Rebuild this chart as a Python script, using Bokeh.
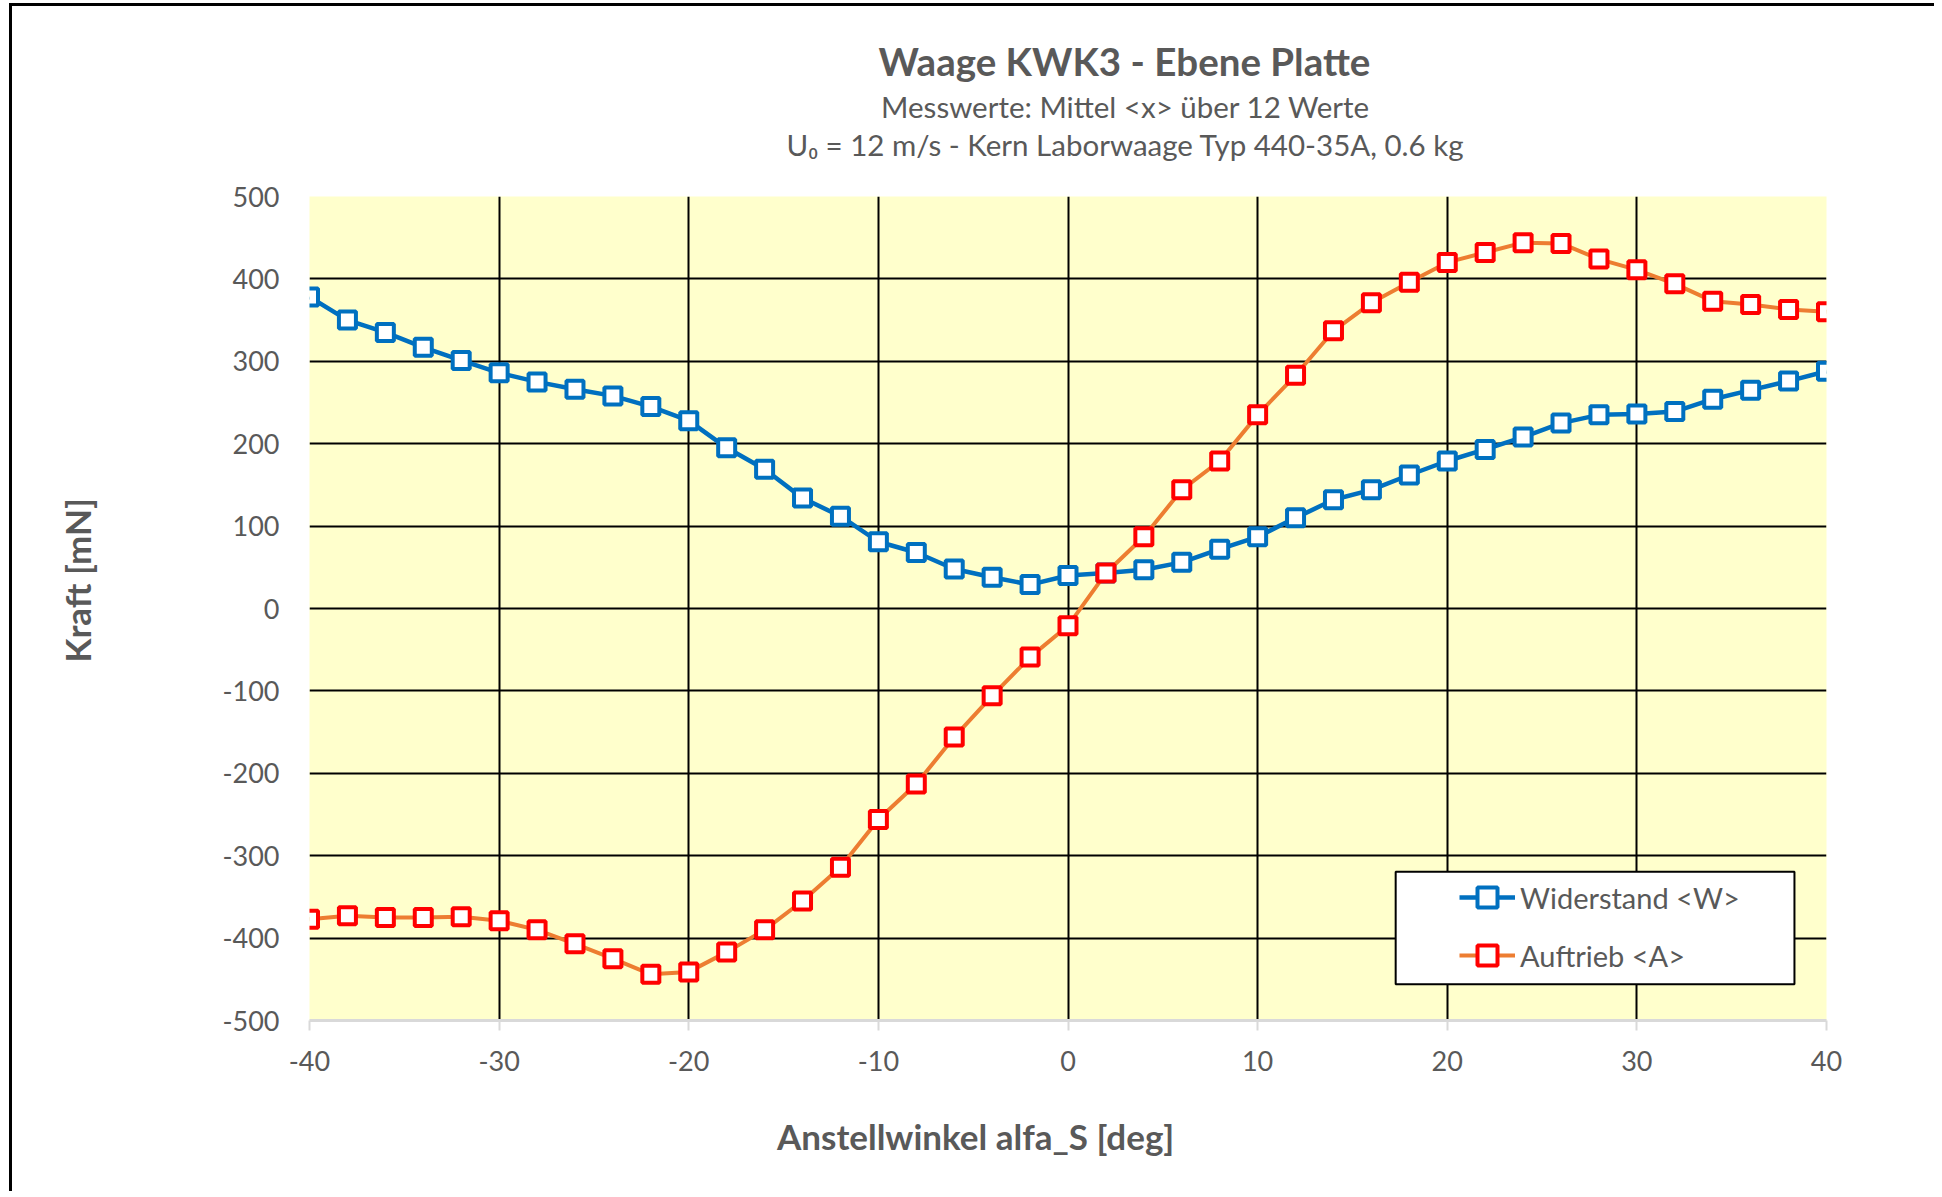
from bokeh.plotting import figure
from bokeh.models import (ColumnDataSource, Legend, LegendItem, FixedTicker,
                          BoxAnnotation, Range1d, Title)
from bokeh.embed import file_html
from bokeh.resources import INLINE

# ---------------- data ----------------
angles = [-40, -38, -36, -34, -32, -30, -28, -26, -24, -22, -20, -18, -16, -14, -12,
          -10, -8, -6, -4, -2, 0, 2, 4, 6, 8, 10, 12, 14, 16, 18, 20, 22, 24, 26,
          28, 30, 32, 34, 36, 38, 40]
widerstand = [378, 350, 335, 317, 301, 286, 275, 266, 258, 245, 228, 195, 169, 134, 112,
              81, 68, 48, 38, 29, 40, 43, 47, 56, 72, 87, 110, 132, 144, 162, 179, 193,
              208, 225, 235, 236, 239, 254, 265, 276, 288]
auftrieb = [-377, -373, -375, -375, -374, -379, -390, -407, -425, -444, -441, -417, -390,
            -355, -314, -256, -213, -156, -106, -59, -21, 43, 87, 144, 179, 235, 283, 337,
            371, 396, 420, 432, 444, 443, 424, 411, 394, 373, 369, 363, 360]
x_ticks = [-40, -30, -20, -10, 0, 10, 20, 30, 40]
x_tick_labels = ["-40", "-30", "-20", "-10", "0", "10", "20", "30", "40"]
y_ticks = [-500, -400, -300, -200, -100, 0, 100, 200, 300, 400, 500]
y_tick_labels = ["-500", "-400", "-300", "-200", "-100", "0", "100", "200", "300",
                 "400", "500"]
grid_y = [-400, -300, -200, -100, 0, 100, 200, 300, 400, 500]
series_names = ["Widerstand <W>", "Auftrieb <A>"]

title_text = "Waage KWK3 - Ebene Platte"
subtitle1 = "Messwerte: Mittel <x> über 12 Werte"
subtitle2 = "U\u2080  = 12 m/s -  Kern Laborwaage Typ 440-35A, 0.6 kg"
x_label = "Anstellwinkel alfa_S [deg]"
y_label = "Kraft [mN]"

# ---------------- style ----------------
FONT = "Lato"
GRAY = "#595959"
BLUE = "#0070C0"
ORANGE = "#ED7D31"
RED = "#FF0000"

W, H = 1925, 1188
ML, MT, MR, MB = 297, 190, 111, 174
FRAME_LEFT_PAGE = 12 + ML
FRAME_BOTTOM_PAGE = 6 + H - MB

src = ColumnDataSource(dict(a=angles, w=widerstand, l=auftrieb))

p = figure(width=W, height=H, output_backend="svg", toolbar_location=None,
           x_range=Range1d(-40, 40), y_range=Range1d(-500, 500),
           min_border_left=ML, min_border_top=MT, min_border_right=MR,
           min_border_bottom=MB, background_fill_color="#FFFFCC",
           border_fill_color="white", outline_line_color=None)
p.styles = {"margin-left": "9px", "margin-top": "3px",
            "border-top": "3px solid black", "border-left": "3px solid black"}

# grid
p.xgrid.ticker = FixedTicker(ticks=x_ticks)
p.ygrid.ticker = FixedTicker(ticks=grid_y)
for g in (p.xgrid, p.ygrid):
    g.grid_line_color = "black"
    g.grid_line_width = 2
    g.grid_line_alpha = 1

# axes
xa = p.xaxis[0]
xa.ticker = FixedTicker(ticks=x_ticks)
xa.major_label_overrides = dict(zip(x_ticks, x_tick_labels))
xa.axis_line_color = "#D9D9D9"
xa.axis_line_width = 3
xa.major_tick_line_color = "#D9D9D9"
xa.major_tick_line_width = 2
xa.major_tick_out = 10
xa.major_tick_in = 0
xa.minor_tick_line_color = None
xa.minor_tick_out = 0
xa.major_label_text_font = FONT
xa.major_label_text_font_size = "27px"
xa.major_label_text_color = GRAY
xa.major_label_standoff = 20

ya = p.yaxis[0]
ya.ticker = FixedTicker(ticks=y_ticks)
ya.major_label_overrides = dict(zip(y_ticks, y_tick_labels))
ya.axis_line_color = None
ya.major_tick_line_color = None
ya.minor_tick_line_color = None
ya.major_tick_out = 0
ya.major_tick_in = 0
ya.minor_tick_out = 0
ya.major_label_text_font = FONT
ya.major_label_text_font_size = "27px"
ya.major_label_text_color = GRAY
ya.major_label_standoff = 30

# series
bl = p.line("a", "w", source=src, line_color=BLUE, line_width=4.5)
bm = p.scatter("a", "w", source=src, marker="square", size=17, fill_color="white",
               line_color=BLUE, line_width=4)
rl = p.line("a", "l", source=src, line_color=ORANGE, line_width=4)
rm = p.scatter("a", "l", source=src, marker="square", size=17, fill_color="white",
               line_color=RED, line_width=4)

# legend box + legend
box = BoxAnnotation(left=17.28, right=38.31, bottom=-456, top=-319.6,
                    fill_color="white", fill_alpha=1, line_color="black",
                    line_width=2, line_alpha=1)
p.add_layout(box)
legend = Legend(items=[LegendItem(label=series_names[0], renderers=[bl, bm]),
                       LegendItem(label=series_names[1], renderers=[rl, rm])],
                location=(1464 - FRAME_LEFT_PAGE - 5, 40),
                glyph_width=56, glyph_height=50, spacing=8, padding=5,
                label_standoff=5, label_text_font=FONT, label_text_font_size="29px",
                label_text_color=GRAY, background_fill_alpha=0, border_line_color=None)
p.add_layout(legend)


def spacer(standoff):
    return Title(text=" ", text_font_size="1px", standoff=standoff)


def title(text, size, offset, standoff=0, bold=False):
    return Title(text=text, text_font=FONT, text_font_size=size, text_color=GRAY,
                 text_font_style="bold" if bold else "normal", align="left",
                 vertical_align="middle", offset=offset, standoff=standoff)

# title block (stacked outward from the frame)
p.add_layout(spacer(31), "above")
p.add_layout(title(subtitle2, "29.5px", 786 - FRAME_LEFT_PAGE), "above")
p.add_layout(title(subtitle1, "29.5px", 880.6 - FRAME_LEFT_PAGE, 2), "above")
p.add_layout(title(title_text, "38.5px", 878 - FRAME_LEFT_PAGE, 4, bold=True), "above")

# axis titles
p.add_layout(spacer(37), "below")
p.add_layout(title(x_label, "35px", 776.5 - FRAME_LEFT_PAGE, bold=True), "below")
p.add_layout(spacer(118), "left")
p.add_layout(title(y_label, "35px", FRAME_BOTTOM_PAGE - 662, bold=True), "left")

open("out.html", "w").write(file_html(p, INLINE))
